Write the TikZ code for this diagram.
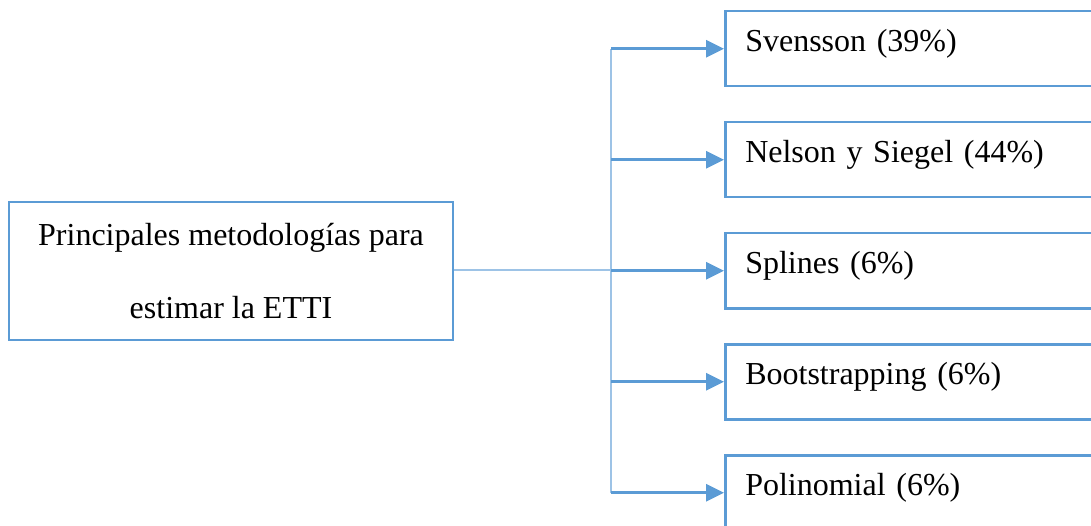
\documentclass[tikz,border=0pt]{standalone}
\usepackage{fontspec}
\setmainfont{Liberation Serif}
\usepackage{tikz}
\usetikzlibrary{arrows.meta, positioning, calc}
\definecolor{boxblue}{RGB}{91,155,213}
\definecolor{lineblue}{RGB}{157,195,230}
\tikzset{
  mainbox/.style={rectangle, draw=boxblue, line width=2.5pt, minimum width=444, minimum height=138, align=center, font=\fontsize{32}{73}\selectfont},
  itembox/.style={rectangle, draw=boxblue, line width=2.5pt, anchor=north west, minimum height=75, text width=440, inner xsep=20, align=left, text height=20pt, text depth=15pt, font=\fontsize{32}{38}\selectfont},
  branch/.style={draw=boxblue, line width=3pt, -{Triangle[length=18pt, width=17pt]}}
}

\begin{document}
\begin{tikzpicture}[x=1pt, y=-1pt]
\useasboundingbox (0,0) rectangle (1091,526);
\node[mainbox] (main) at (231,271) {Principales metodologías para\\estimar la ETTI};

\node[itembox] (svensson) at (724,10) {Svensson (39\%)};
\node[itembox] (nelson) at (724,121) {Nelson y Siegel (44\%)};
\node[itembox] (splines) at (724,232) {Splines (6\%)};
\node[itembox] (boot) at (724,343) {Bootstrapping (6\%)};
\node[itembox] (poli) at (724,454) {Polinomial (6\%)};

\coordinate (trunk) at (611,270);
\draw[lineblue, line width=1.5pt] (main.east |- trunk) -- (trunk);
\draw[lineblue, line width=2pt] (trunk |- svensson.west) -- (trunk |- poli.west);

\draw[branch] (trunk |- svensson.west) -- (svensson.west);
\draw[branch] (trunk |- nelson.west) -- (nelson.west);
\draw[branch] (trunk |- splines.west) -- (splines.west);
\draw[branch] (trunk |- boot.west) -- (boot.west);
\draw[branch] (trunk |- poli.west) -- (poli.west);
\end{tikzpicture}
\end{document}
